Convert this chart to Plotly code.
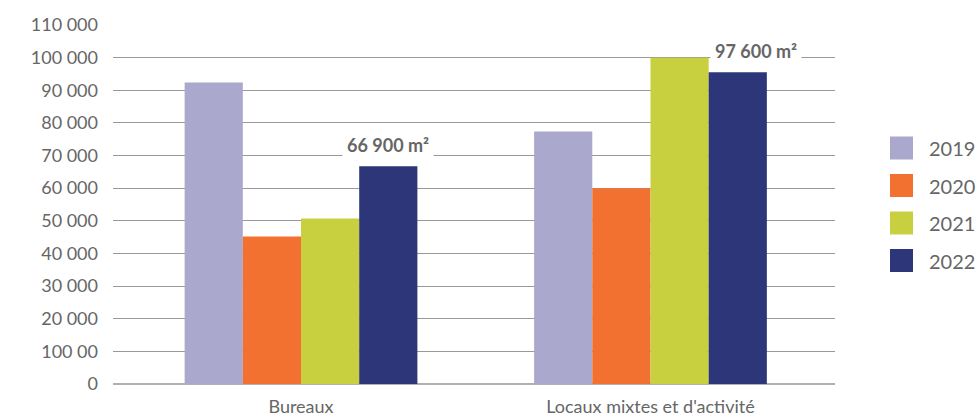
import plotly.graph_objects as go

categories = ["Bureaux", "Locaux mixtes et d'activité"]
years = ["2019", "2020", "2021", "2022"]
values_2019 = [92400, 77400]
values_2020 = [45200, 60000]
values_2021 = [50700, 100000]
values_2022 = [66700, 95500]
series_values = [values_2019, values_2020, values_2021, values_2022]
colors = ["#aaa8cc", "#f27030", "#c9d040", "#2d3678"]

tick_vals = [0, 10000, 20000, 30000, 40000, 50000, 60000, 70000, 80000, 90000, 100000, 110000]
tick_text = ["0", "100 00", "20 000", "30 000", "40 000", "50 000", "60 000",
             "70 000", "80 000", "90 000", "100 000", "110 000"]

label_texts = ["<b>66 900 m²</b>", "<b>97 600 m²</b>"]

FONT = "Lato"
TXT = "#666666"

W, H = 979, 417
ML, MR, MT, MB = 113, 144, 25, 33

fig = go.Figure()
for name, vals, col in zip(years, series_values, colors):
    fig.add_trace(go.Bar(name=name, x=categories, y=vals, marker=dict(color=col, line=dict(width=0)),
                         showlegend=False))

# value labels above the 2022 bars
xshifts = [0, 18]
for i, (cat, txt) in enumerate(zip(categories, label_texts)):
    fig.add_annotation(x=i + 0.25, y=values_2022[i], xref="x", yref="y", text=txt,
                       showarrow=False, yshift=21, xshift=xshifts[i], yanchor="middle",
                       font=dict(family=FONT, size=18, color=TXT),
                       bgcolor="white", borderpad=4)

# manual legend
plot_h = H - MT - MB
plot_w = W - ML - MR
for k, (name, col) in enumerate(zip(years, colors)):
    cy = 148 + k * 37.5
    x0 = (890 - ML) / plot_w
    x1 = (913 - ML) / plot_w
    y0 = (H - MB - (cy + 11.5)) / plot_h
    y1 = (H - MB - (cy - 11.5)) / plot_h
    fig.add_shape(type="rect", xref="paper", yref="paper", x0=x0, x1=x1, y0=y0, y1=y1,
                  fillcolor=col, line=dict(width=0))
    fig.add_annotation(xref="paper", yref="paper", x=(927 - ML) / plot_w,
                       y=(H - MB - cy) / plot_h, text=name, showarrow=False,
                       xanchor="left", yanchor="middle",
                       font=dict(family=FONT, size=20, color=TXT))

fig.update_layout(
    width=W, height=H,
    margin=dict(l=ML, r=MR, t=MT, b=MB, autoexpand=False),
    plot_bgcolor="white", paper_bgcolor="white",
    barmode="group", bargap=0.334, bargroupgap=0,
    font=dict(family=FONT, color=TXT),
)
fig.update_xaxes(range=[-0.538, 1.528], showgrid=False, showline=False, ticks="",
                 automargin=False,
                 tickfont=dict(family=FONT, size=18, color=TXT), ticklabelstandoff=10)
fig.update_yaxes(range=[0, 110000], tickvals=tick_vals, ticktext=tick_text,
                 automargin=False,
                 showgrid=True, gridcolor="#999999", gridwidth=1,
                 zeroline=True, zerolinecolor="#b0b0b0", zerolinewidth=2,
                 showline=False, ticks="", ticklabelstandoff=14,
                 tickfont=dict(family=FONT, size=18, color=TXT))

fig.write_html("out.html")
